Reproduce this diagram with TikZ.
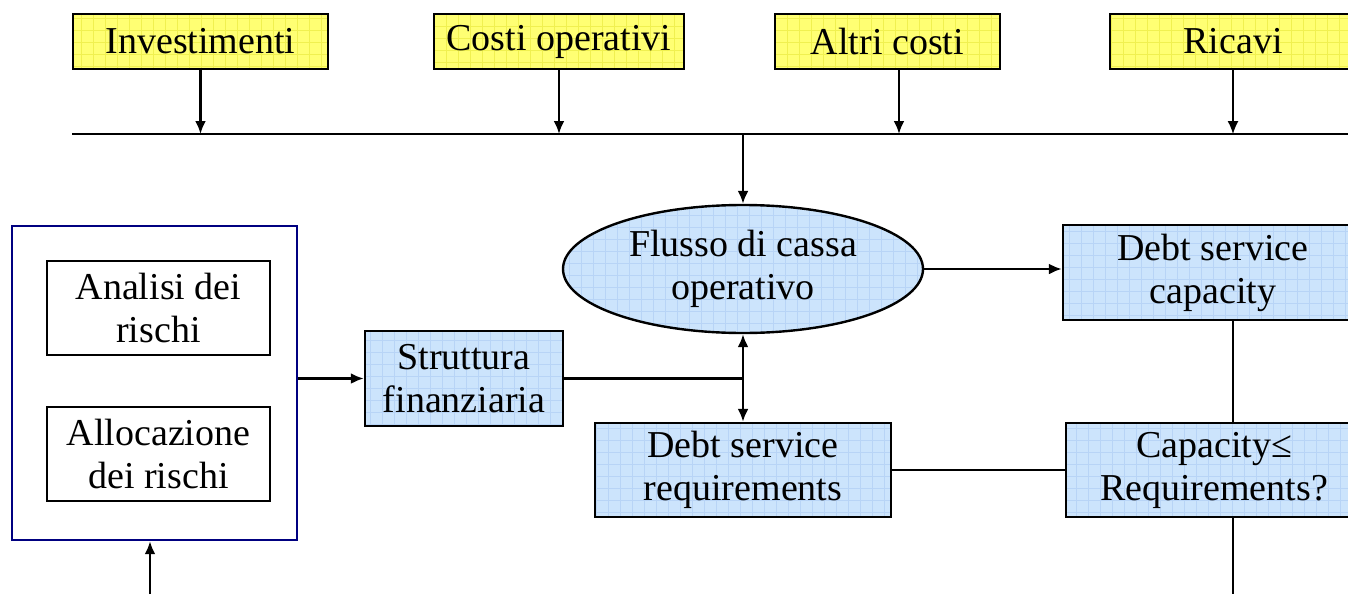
\documentclass[tikz,border=0pt]{standalone}
\usepackage{fontspec}
\setmainfont{Liberation Serif}
\usetikzlibrary{shapes,arrows.meta,positioning}
\definecolor{boxblue}{RGB}{204,228,252}
\definecolor{gridblue}{RGB}{184,212,246}
\definecolor{boxyellow}{RGB}{255,255,115}
\definecolor{gridyellow}{RGB}{240,240,80}
\definecolor{frameblue}{RGB}{0,0,128}

\begin{document}
\begin{tikzpicture}[x=0.5pt,y=-0.5pt,% one unit is one pixel of the reference
			every node/.style={
				align=center,		% line breaks with "\\"
				inner sep=0pt,
				font=\fontsize{19}{21.5}\selectfont
			},
			gridded/.style={path picture={\draw[#1,line width=0.3pt,step=6pt]
				(path picture bounding box.south west) grid (path picture bounding box.north east);}},
			voce/.style={rectangle,draw=black,line width=1.2pt,fill=boxyellow,gridded=gridyellow,minimum height=27.5pt},
			calcolo/.style={rectangle,draw=black,line width=1.2pt,fill=boxblue,gridded=gridblue,minimum height=47.5pt},
			rischio/.style={rectangle,draw=black,line width=1.2pt,minimum width=111.5pt,minimum height=47pt},
			every edge/.style={draw,line width=1.2pt},
			>={Latex[length=6.5pt,width=5.5pt]}
		]
		\useasboundingbox (0,0) rectangle (1348,594);
		\clip (0,0) rectangle (1348,594);
		% cash flow items
		\node[voce,minimum width=127.5pt](inv) at (200.5,41.5){Investimenti};
		\node[voce,minimum width=125pt](costi) at (559,41.5){Costi operativi};
		\node[voce,minimum width=112.5pt](altri) at (887.5,41.5){Altri costi};
		\node[voce,minimum width=123pt](ric) at (1233,41.5){Ricavi};
		% main blocks
		\node[ellipse,draw=black,line width=1.2pt,fill=boxblue,gridded=gridblue,minimum width=180pt,minimum height=64pt](flusso) at (743,269){Flusso di cassa\\operativo};
		\node[calcolo,minimum width=150pt](dsc) at (1213,272.5){Debt service\\capacity};
		\node[calcolo,minimum width=148pt,minimum height=47pt](cap) at (1214,470){Capacity≤\\Requirements?};
		\node[calcolo,minimum width=148pt,minimum height=47pt](dsr) at (743,470){Debt service\\requirements};
		\node[calcolo,minimum width=99pt](strutt) at (464,378.5){Struttura\\finanziaria};
		% risk group
		\node[rectangle,draw=frameblue,line width=1.2pt,minimum width=142.5pt,minimum height=157pt](rischi) at (154.5,383){};
		\node[rischio](analisi) at (158.5,308){Analisi dei\\rischi};
		\node[rischio](alloc) at (158.5,454){Allocazione\\dei rischi};
		\coordinate (busL) at (72,134);
		\coordinate (busR) at (1348,134);
		\coordinate (fondo) at (150,594);
		\draw[line width=1.3pt] (busL) -- (busR);
		\path[->]
		(inv)edge []	(inv |- busL)
		(costi)edge []	(costi |- busL)
		([xshift=5.75pt]altri.south)edge []	([xshift=5.75pt]altri.south |- busL)
		(ric)edge [line width=0.7pt]	(ric |- busL)
		(flusso |- busL)edge []	(flusso)
		(flusso.east)edge []	(flusso.east -| dsc.west)
		(flusso)edge [<->]	(dsr)
		(rischi.east |- strutt)edge []	(strutt)
		(fondo)edge []	(fondo |- rischi.south)
		;
		\path
		(strutt)edge []	(flusso |- strutt)
		(dsr)edge []	(dsr -| cap.west)
		(dsc.south -| ric)edge []	(cap.north -| ric)
		(cap.south -| ric)edge []	(ric |- fondo)
		;
	\end{tikzpicture}
\end{document}
